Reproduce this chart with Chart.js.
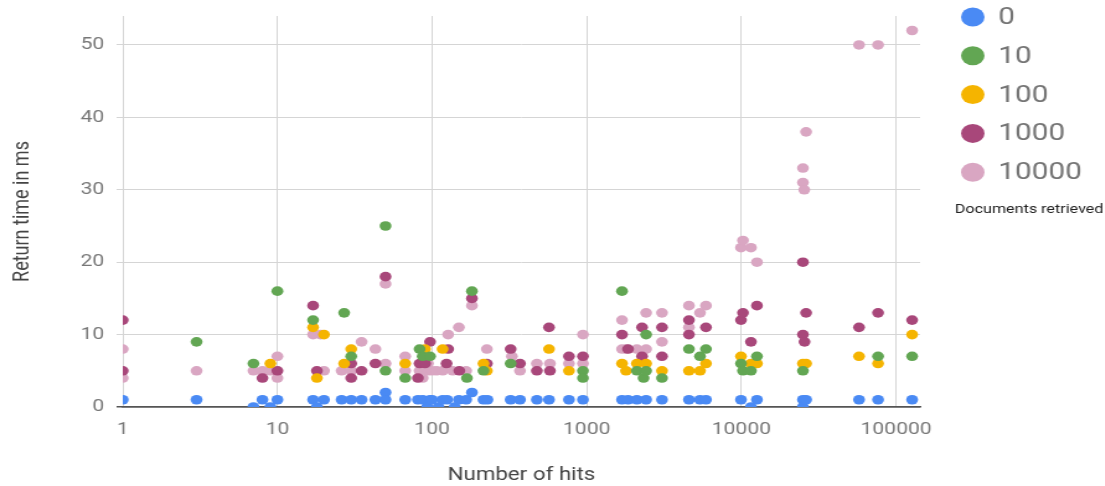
<!DOCTYPE html>
<html>
<head>
<meta charset="utf-8">
<script src="https://cdn.jsdelivr.net/npm/chart.js@4.4.1/dist/chart.umd.min.js"></script>
<style>
  html, body { margin: 0; padding: 0; background: #ffffff; overflow: hidden; }
  /* the chart is drawn narrower and widened horizontally by this wrapper */
  #wrap { width: 891px; height: 486px; transform: scaleX(1.24); transform-origin: 0 0; }
  canvas { display: block; }
</style>
</head>
<body>
<div id="wrap"><canvas id="chart" width="891" height="486" style="width:891px;height:486px"></canvas></div>
<script>
// Legend labels: number of documents retrieved
const docLabels = ['0', '10', '100', '1000', '10000'];
const docColors = ['#4a8af4', '#62a653', '#f5b400', '#a8477a', '#d9a6c2'];

// [number of hits, return time in ms] for each documents-retrieved setting
const docs0 = [
  [1,1],[3,1],[7,0],[8,1],[9,0],[10,1],[17,1],[18,0],[20,1],[26,1],[30,1],[35,1],[43,1],
  [50,2],[50,1],[67,1],[81,1],[87,1],[93,0],[97,1],[100,1],[110,0],[117,1],[125,1],[140,0],
  [149,1],[166,1],[181,2],[215,1],[228,1],[322,1],[370,1],[476,1],[570,1],[767,1],[945,1],
  [1690,1],[1850,1],[2110,1],[2420,1],[3065,1],[4580,1],[5400,1],[5900,1],[9940,1],[11530,0],
  [12600,1],[25000,1],[25000,0],[26200,1],[57600,1],[76500,1],[127000,1]
];
const docs10 = [
  [3,9],[7,6],[10,16],[17,12],[27,13],[30,7],[50,25],[50,5],[67,4],[83,8],[87,7],[97,7],
  [168,4],[181,16],[215,5],[322,6],[945,5],[945,4],[1690,16],[2110,5],[2330,4],[2420,10],
  [2420,5],[3065,4],[4580,8],[5400,7],[5900,8],[9940,6],[10240,5],[11530,5],[12600,7],
  [25000,5],[76500,7],[127000,7]
];
const docs100 = [
  [9,6],[17,11],[18,4],[20,10],[27,6],[30,8],[67,6],[90,8],[117,8],[215,6],[226,5],[570,8],
  [767,5],[1690,6],[1795,5],[2110,6],[2420,6],[3065,5],[4580,5],[5400,5],[5900,6],[9940,7],
  [11530,6],[12600,6],[25000,6],[26200,6],[57600,7],[76500,6],[127000,10]
];
const docs1000 = [
  [1,12],[1,5],[8,4],[10,5],[17,14],[18,5],[30,6],[30,4],[35,5],[43,6],[50,18],[81,4],
  [83,6],[90,6],[97,9],[124,6],[127,8],[150,5],[181,15],[226,6],[322,8],[370,6],[476,5],
  [570,11],[578,5],[767,7],[945,7],[1690,10],[1850,8],[2277,11],[2277,7],[3065,11],[3065,7],
  [4580,12],[4580,10],[5900,11],[9940,12],[10240,13],[11530,9],[12600,14],[25000,20],
  [25000,10],[25600,9],[26200,13],[57600,11],[76500,13],[127000,12]
];
const docs10000 = [
  [1,8],[1,4],[3,5],[7,5],[8,5],[9,5],[10,7],[10,4],[17,10],[19,10],[20,5],[26,5],[30,5],
  [35,9],[43,8],[50,17],[50,6],[67,7],[67,5],[83,5],[87,4],[94,6],[94,5],[100,5],[107,5],
  [117,5],[127,10],[136,5],[149,11],[166,5],[181,14],[226,8],[328,7],[370,5],[476,6],
  [578,6],[767,6],[945,6],[945,10],[1690,12],[1690,8],[1800,8],[2110,8],[2420,13],[2420,8],
  [3065,13],[3065,9],[4580,14],[4580,11],[5400,13],[5900,14],[9940,22],[10240,23],
  [11530,22],[12600,20],[25000,33],[25000,31],[25500,30],[26200,38],[57600,50],
  [76500,50],[127000,52]
];
const seriesData = [docs0, docs10, docs100, docs1000, docs10000];

// Axis ticks
const xTicks = [1, 10, 100, 1000, 10000, 100000];
const yTicks = [0, 10, 20, 30, 40, 50];

const FONT = 'Roboto, "Noto Sans", Arial, sans-serif';

const datasets = seriesData.map((pts, i) => ({
  label: docLabels[i],
  data: pts.map(p => ({ x: p[0], y: p[1] })),
  backgroundColor: docColors[i],
  borderColor: docColors[i],
  borderWidth: 0,
  pointRadius: 4.8,
  pointHoverRadius: 4.8
}));

// Legend at the right with a caption below it
const sideLegend = {
  id: 'sideLegend',
  afterDraw(chart) {
    const ctx = chart.ctx;
    ctx.save();
    const cx = 784.5, tx = 805, y0 = 17, step = 38.8;
    chart.data.datasets.forEach((ds, i) => {
      const y = y0 + i * step;
      ctx.beginPath();
      ctx.fillStyle = ds.backgroundColor;
      ctx.arc(cx, y, 9.5, 0, Math.PI * 2);
      ctx.fill();
      ctx.fillStyle = '#757575';
      ctx.font = '24px ' + FONT;
      ctx.textBaseline = 'middle';
      ctx.textAlign = 'left';
      ctx.fillText(ds.label, tx, y + 1);
    });
    ctx.fillStyle = '#222222';
    ctx.font = '13px ' + FONT;
    ctx.textBaseline = 'middle';
    ctx.fillText('Documents retrieved', 770, 210);
    ctx.restore();
  }
};

new Chart(document.getElementById('chart'), {
  type: 'scatter',
  data: { datasets },
  plugins: [sideLegend],
  options: {
    responsive: false,
    animation: false,
    layout: { padding: { top: 16, right: 149, left: 0, bottom: 0 } },
    plugins: {
      legend: { display: false },
      tooltip: { enabled: false }
    },
    scales: {
      x: {
        type: 'logarithmic',
        min: 1,
        max: 143000,
        afterBuildTicks: axis => { axis.ticks = xTicks.map(v => ({ value: v })); },
        afterFit: axis => { axis.height = 79; },
        ticks: {
          color: '#777777',
          font: { family: FONT, size: 17 },
          padding: 13,
          maxRotation: 0,
          autoSkip: false,
          callback: v => String(v)
        },
        grid: { color: '#d5d5d5', lineWidth: 1, drawTicks: false },
        border: { display: true, color: '#555555', width: 1.5 },
        title: {
          display: true,
          text: 'Number of hits',
          color: '#444444',
          font: { family: FONT, size: 18 },
          padding: { top: 0, bottom: 0 }
        }
      },
      y: {
        type: 'linear',
        min: 0,
        max: 54,
        afterBuildTicks: axis => { axis.ticks = yTicks.map(v => ({ value: v })); },
        afterFit: axis => {
          axis.width = 99;
          axis.paddingTop = 0;
          axis.paddingBottom = 0;
        },
        ticks: {
          color: '#777777',
          font: { family: FONT, size: 17 },
          padding: 10,
          callback: v => String(v)
        },
        grid: {
          color: c => (c.tick && c.tick.value === 0 ? '#555555' : '#d5d5d5'),
          lineWidth: c => (c.tick && c.tick.value === 0 ? 1.5 : 1),
          tickLength: 5
        },
        border: { display: false },
        title: {
          display: true,
          text: 'Return time in ms',
          color: '#444444',
          font: { family: FONT, size: 18 },
          padding: { top: 8, bottom: 0 }
        }
      }
    }
  }
});
</script>
</body>
</html>
